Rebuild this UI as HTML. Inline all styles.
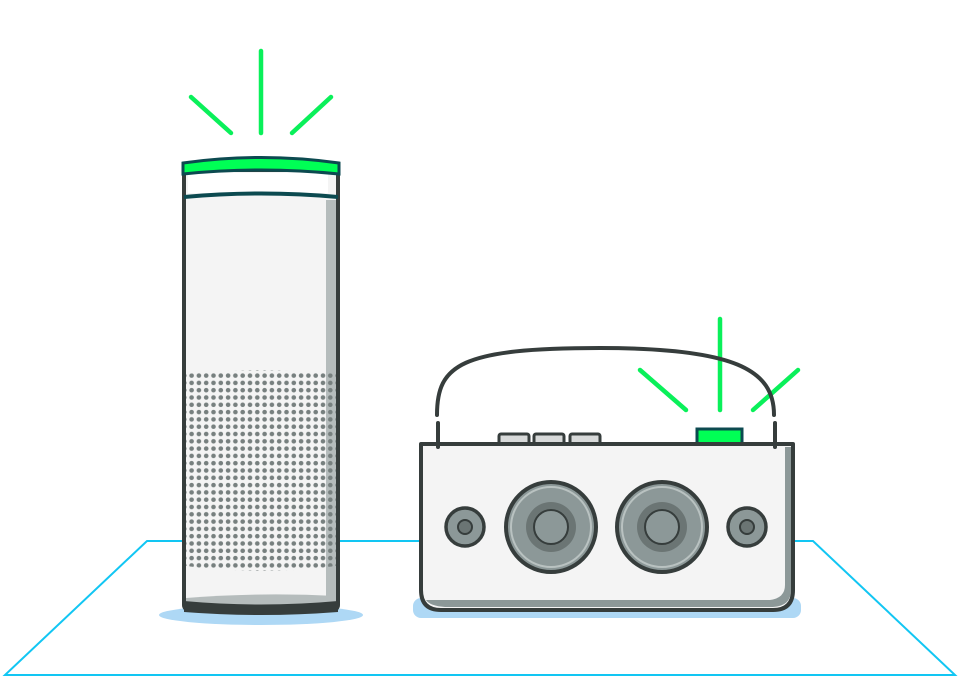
<!DOCTYPE html>
<html><head><meta charset="utf-8"><style>html,body{margin:0;padding:0;background:#fff}svg{display:block}</style></head>
<body>
<svg width="960" height="680" viewBox="0 0 960 680" xmlns="http://www.w3.org/2000/svg">
<defs>
<pattern id="dots" x="188" y="372" width="7.3" height="7.3" patternUnits="userSpaceOnUse">
<circle cx="3.6" cy="3.6" r="2.3" fill="#77807f"/>
</pattern>
<clipPath id="grill"><path d="M186,374 Q261,366 336,374 L336,566 Q261,576 186,566 Z"/></clipPath>
</defs>
<polygon points="147,541 813,541 955,675 5,675" fill="none" stroke="#12c6f3" stroke-width="2"/>
<ellipse cx="261" cy="615" rx="102" ry="10" fill="#aed8f5"/>
<rect x="413" y="598" width="388" height="20" rx="8" fill="#aed8f5"/>

<rect x="184" y="168" width="154" height="442" rx="4" fill="#f4f4f4"/>
<rect x="326" y="200" width="10" height="400" fill="#b5bcbc"/>
<path d="M186,598 Q261,592 336,596 L336,606 L186,606Z" fill="#b5bcbc"/>
<rect x="188" y="173" width="140" height="20" fill="#fff"/>
<rect x="184" y="170" width="154" height="440" rx="5" fill="none" stroke="#363d3c" stroke-width="4"/>
<path d="M184,601 Q261,608 338,601 L338,612 Q261,618 184,612Z" fill="#363d3c"/>
<path d="M183,163 Q261,152 339,163 L339,174 Q261,166 183,174Z" fill="#00ff55" stroke="#0c4a50" stroke-width="3"/>
<path d="M184,197 Q261,190 338,197" fill="none" stroke="#0c4a50" stroke-width="4"/>
<rect x="186" y="360" width="150" height="220" fill="url(#dots)" clip-path="url(#grill)"/>
<g stroke="#0af05a" stroke-width="4.5" stroke-linecap="round">
<line x1="261" y1="51" x2="261" y2="133"/>
<line x1="191" y1="97" x2="231" y2="133"/>
<line x1="331" y1="97" x2="292" y2="133"/>
<line x1="720" y1="319" x2="720" y2="410"/>
<line x1="640" y1="370" x2="686" y2="410"/>
<line x1="798" y1="370" x2="753" y2="410"/>
</g>

<path d="M437,415 C437,365 460,348 600,348 C735,348 774,370 774,415" fill="none" stroke="#363d3c" stroke-width="4" stroke-linecap="round"/>
<g fill="#d7d9d9" stroke="#363d3c" stroke-width="3">
<rect x="499" y="434" width="30" height="12" rx="2"/>
<rect x="534" y="434" width="30" height="12" rx="2"/>
<rect x="570" y="434" width="30" height="12" rx="2"/>
</g>
<rect x="697" y="429" width="45" height="16" fill="#00ff55" stroke="#0c4a50" stroke-width="3"/>
<path d="M421,444 H793 V590 Q793,610 773,610 H441 Q421,610 421,590Z" fill="#f4f4f4"/>
<path d="M785,447 H791 V590 Q791,606 773,607 H445 Q430,606 426,600 L770,600 Q785,598 785,585Z" fill="#8c9898"/>
<path d="M421,444 H793 V590 Q793,610 773,610 H441 Q421,610 421,590Z" fill="none" stroke="#363d3c" stroke-width="4" stroke-linejoin="round"/>
<g stroke="#363d3c" stroke-width="4" stroke-linecap="round">
<line x1="438" y1="423" x2="438" y2="447"/>
<line x1="775" y1="423" x2="775" y2="447"/>
</g>
<g stroke="#363d3c">
<circle cx="465" cy="527" r="19" fill="#8c9898" stroke-width="3.5"/>
<circle cx="465" cy="527" r="7" fill="#6b7574" stroke-width="2"/>
<circle cx="747" cy="527" r="19" fill="#8c9898" stroke-width="3.5"/>
<circle cx="747" cy="527" r="7" fill="#6b7574" stroke-width="2"/>
<circle cx="551" cy="527" r="45" fill="#8c9898" stroke-width="4"/>
<circle cx="551" cy="527" r="40" fill="none" stroke="#b9c2c1" stroke-width="2"/>
<circle cx="551" cy="527" r="25" fill="#6b7574" stroke="none"/>
<circle cx="551" cy="527" r="17" fill="#8c9898" stroke-width="2"/>
<circle cx="662" cy="527" r="45" fill="#8c9898" stroke-width="4"/>
<circle cx="662" cy="527" r="40" fill="none" stroke="#b9c2c1" stroke-width="2"/>
<circle cx="662" cy="527" r="25" fill="#6b7574" stroke="none"/>
<circle cx="662" cy="527" r="17" fill="#8c9898" stroke-width="2"/>
</g>
</svg>
</body></html>
